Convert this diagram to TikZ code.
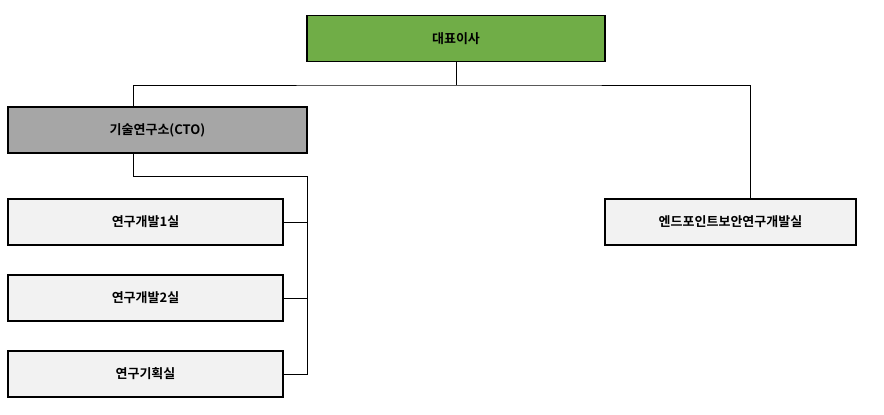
\documentclass[tikz,border=0pt]{standalone}
\usepackage{fontspec}
\newfontfamily\kr{Noto Sans CJK KR}[BoldFont={* Bold}]
\begin{document}
\begin{tikzpicture}[x=1pt,y=-1pt,
  box/.style={draw=black,line width=1.2pt,minimum height=46pt,font=\kr\bfseries\fontsize{13pt}{15pt}\selectfont,inner sep=0pt},
  ln/.style={draw=black,line width=0.6pt}]
\useasboundingbox (0,0) rectangle (884,415);
\definecolor{grn}{HTML}{70AD47}\definecolor{gry}{HTML}{A6A6A6}\definecolor{lgt}{HTML}{F2F2F2}
\node[box,fill=grn,minimum width=298pt] (ceo) at (456,38.5) {대표이사};
\node[box,fill=gry,minimum width=299pt] (cto) at (157.5,130) {기술연구소(CTO)};
\node[box,fill=lgt,minimum width=275pt] (r1) at (145.5,222) {연구개발1실};
\node[box,fill=lgt,minimum width=275pt] (r2) at (145.5,298) {연구개발2실};
\node[box,fill=lgt,minimum width=275pt] (r3) at (145.5,374) {연구기획실};
\node[box,fill=lgt,minimum width=251pt] (ep) at (730.5,222) {엔드포인트보안연구개발실};
\coordinate (j) at (456,85);
\coordinate (k) at (307,176);
\draw[ln] (ceo.south) -- (j);
\draw[ln] (cto.north -| 133,0) |- (j) -| (ep.north -| 750,0);
\draw[ln] (cto.south -| 133,0) |- (k) |- (r3.east);
\draw[ln] (r1.east) -- (r1.east -| k);
\draw[ln] (r2.east) -- (r2.east -| k);
\end{tikzpicture}
\end{document}
